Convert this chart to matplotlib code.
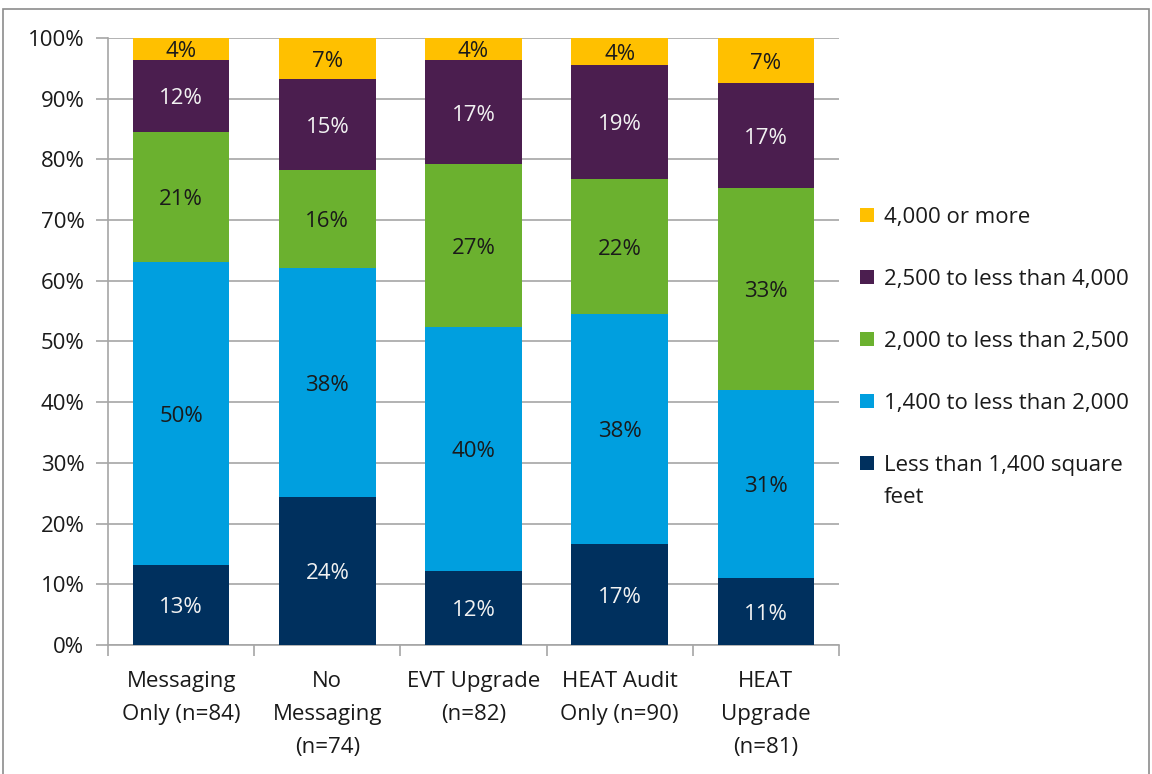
import matplotlib
matplotlib.use("Agg")
import matplotlib.pyplot as plt
from matplotlib.patches import Rectangle, Patch
import numpy as np

plt.rcParams['font.family'] = ['Open Sans', 'DejaVu Sans']

categories = ["Messaging\nOnly (n=84)", "No\nMessaging\n(n=74)", "EVT Upgrade\n(n=82)",
              "HEAT Audit\nOnly (n=90)", "HEAT\nUpgrade\n(n=81)"]
series_names = ["Less than 1,400 square", "1,400 to less than 2,000",
                "2,000 to less than 2,500", "2,500 to less than 4,000", "4,000 or more"]
lt_1400 = [13.1, 24.3, 12.2, 16.7, 11.1]
s1400_2000 = [50.0, 37.8, 40.2, 37.8, 30.9]
s2000_2500 = [21.4, 16.2, 26.8, 22.2, 33.3]
s2500_4000 = [11.9, 14.9, 17.1, 18.9, 17.3]
ge_4000 = [3.6, 6.8, 3.7, 4.4, 7.4]
y_ticks = [0, 10, 20, 30, 40, 50, 60, 70, 80, 90, 100]

series = [lt_1400, s1400_2000, s2000_2500, s2500_4000, ge_4000]
colors = ["#00305E", "#009FDF", "#6BB12F", "#4B1E4F", "#FFC000"]
text_colors = ["#f2f2f2", "#1a1a1a", "#1a1a1a", "#f2f2f2", "#1a1a1a"]
FS = 16

fig = plt.figure(figsize=(11.52, 7.74), dpi=100)
fig.patches.append(Rectangle((0.003, -0.01), 0.994, 0.999, transform=fig.transFigure,
                             fill=False, edgecolor="#8c8c8c", linewidth=1.2))

ax = fig.add_axes([0.0938, 0.1667, 0.6345, 0.7843])
x = np.arange(len(categories))
bottom = np.zeros(len(categories))
for vals, col, tcol in zip(series, colors, text_colors):
    vals = np.array(vals)
    ax.bar(x, vals, bottom=bottom, width=0.66, color=col, zorder=3)
    for xi, b, v in zip(x, bottom, vals):
        ax.annotate(f"{v:.0f}%", (xi, b + v / 2), xytext=(0, -2),
                    textcoords="offset points", ha="center", va="center",
                    fontsize=FS, color=tcol, zorder=4)
    bottom += vals

ax.set_xlim(-0.5, len(categories) - 0.5)
ax.set_ylim(0, 100)
ax.set_yticks(y_ticks)
ax.set_yticklabels([f"{t}%" for t in y_ticks], fontsize=FS, color="#1a1a1a")
ax.yaxis.grid(True, color="#a6a6a6", linewidth=1.2, zorder=0)
ax.tick_params(axis="y", length=9, color="#a6a6a6", width=1.2, pad=8)
ax.set_xticks(x)
ax.set_xticklabels(categories, fontsize=FS, color="#1a1a1a", linespacing=1.75)
ax.tick_params(axis="x", which="major", length=0, pad=19)
ax.set_xticks(np.arange(-0.5, len(categories)), minor=True)
ax.tick_params(axis="x", which="minor", length=8, color="#a6a6a6", width=1.2)
for s in ["top", "right"]:
    ax.spines[s].set_visible(False)
for s in ["left", "bottom"]:
    ax.spines[s].set_color("#a6a6a6")
    ax.spines[s].set_linewidth(1.2)

handles = [Patch(facecolor=c, edgecolor="none") for c in colors][::-1]
leg = fig.legend(handles, series_names[::-1], loc="upper left",
                 bbox_to_anchor=(0.729, 0.759), frameon=False, fontsize=FS,
                 handlelength=0.62, handleheight=0.62, handletextpad=0.45,
                 labelspacing=1.85, labelcolor="#1a1a1a")

# wrap the last legend entry onto a second line
fig.canvas.draw()
last = leg.get_texts()[-1]
bb = last.get_window_extent().transformed(fig.transFigure.inverted())
fig.text(bb.x0, bb.y0 - 0.014, "feet", fontsize=FS, color="#1a1a1a",
         ha="left", va="top")

fig.savefig("out.png", dpi=100)
